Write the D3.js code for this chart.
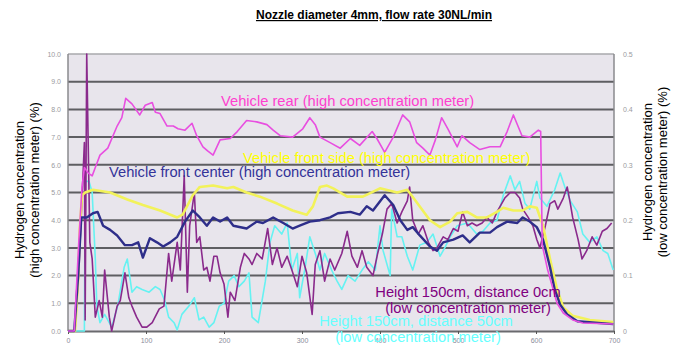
<!DOCTYPE html>
<html><head><meta charset="utf-8">
<script src="https://cdn.jsdelivr.net/npm/d3@7"></script>
<style>
body{margin:0;background:#fff;}
svg{display:block;font-family:"Liberation Sans",Arial,sans-serif;}
</style></head>
<body><svg id="c" width="682" height="349"></svg>
<script>
// ---- data ----
const xTicks = [0,100,200,300,400,500,600,700];
const leftTicks = [0,1,2,3,4,5,6,7,8,9,10];
const rightTicks = [0,0.1,0.2,0.3,0.4,0.5];

// Vehicle rear (high concentration meter), left axis (%)
const rearTime = [0,8,10,14,18,21,26,31,35,41,51,63,69,74,82,92,99,108,112,118,127,135,141,150,159,165,173,179,186,195,208,217,229,242,255,263,272,288,301,310,317,323,336,349,362,374,390,396,406,417,429,438,447,455,464,471,479,487,499,505,515,528,541,554,563,571,582,592,603,606,608,615,621,627,635,647,660,699];
const rearValue = [0,0,1.1,3.3,5.2,5.9,5.7,5.6,5.9,6.35,6.6,7.4,7.7,8.4,8.2,7.8,8.15,8.25,7.9,7.85,7.4,7.4,7.3,7.25,7.5,7.05,6.65,6.5,6.35,6.9,6.95,7.2,7.6,7.55,7.45,7.25,7.05,7.0,7.3,7.7,7.45,7.0,6.8,6.6,6.95,6.7,7.2,6.95,6.45,7.0,7.8,7.55,6.8,6.6,6.35,6.9,7.7,7.3,6.65,7.05,6.8,6.55,6.65,6.65,7.2,7.8,7.05,7.0,7.25,7.2,3.1,2.2,1.6,1.0,0.65,0.4,0.29,0.25];

// Vehicle front side (high concentration meter), left axis (%)
const sideTime = [0,9,13,15,18,22,32,54,76,96,118,140,147,160,169,186,204,212,229,246,268,288,306,314,323,332,340,358,378,400,422,435,447,464,477,490,499,512,524,537,550,558,571,583,592,601,609,618,627,635,647,669,699];
const sideValue = [0,0,1.85,3.65,4.9,5.0,5.1,5.0,4.75,4.55,4.35,4.1,4.2,4.9,5.2,5.25,5.15,5.2,5.0,4.85,4.6,4.35,4.2,4.5,5.2,5.25,5.15,4.85,4.85,5.15,5.0,5.1,4.65,4.0,3.75,3.95,4.25,4.3,4.1,4.1,4.3,4.45,4.35,4.35,4.5,4.45,3.8,2.6,1.5,0.85,0.55,0.4,0.32];

// Vehicle front center (high concentration meter), left axis (%)
const centerTime = [0,8,13,17,24,32,38,45,54,63,73,82,90,96,105,114,122,131,140,150,160,169,178,186,195,204,212,229,242,250,263,276,288,297,310,323,336,346,362,374,383,391,406,417,426,435,442,451,464,473,481,494,506,515,528,541,550,563,576,583,592,601,609,614,618,624,631,640,653,699];
const centerValue = [0,0,2.0,4.1,4.1,4.25,4.3,3.8,3.65,3.45,3.1,3.1,3.2,2.65,3.35,3.2,3.05,3.2,3.4,3.95,4.35,4.1,3.8,4.1,3.95,4.1,3.8,3.7,3.95,3.9,4.1,3.9,3.7,3.8,3.95,4.0,4.1,4.25,4.3,4.2,4.5,4.35,4.9,4.55,4.0,3.65,3.75,3.45,3.05,2.9,3.2,3.3,3.45,3.2,3.55,3.55,3.75,3.95,3.9,4.1,3.95,3.75,3.3,2.75,2.3,1.5,0.95,0.6,0.35,0.25];

// Height 150cm, distance 0cm (low concentration meter), right axis (%)
const h0Time = [0,9,14,18,21,22,24,28,31,35,40,44,47,53,56,63,67,73,78,82,88,95,101,108,117,123,129,133,140,144,149,153,156,162,165,169,174,178,182,187,191,195,200,205,208,214,221,226,232,236,242,249,256,262,268,274,281,287,294,300,306,313,317,323,329,336,342,351,358,364,371,377,383,391,397,403,409,415,422,428,435,438,442,449,455,462,468,473,481,487,494,500,506,512,518,524,531,537,544,550,554,560,567,573,579,583,590,596,601,605,612,618,624,628,635,640,644,647,654,659,665,672,678,685,691,697];
const h0Value = [0,0,0.11,0.24,0.34,0.02,0.5,0.16,0.13,0.025,0.055,0.025,0.11,0.025,0,0.045,0.055,0.105,0.06,0.045,0.025,0.007,0.007,0.015,0.04,0.045,0.14,0.09,0.16,0.11,0.28,0.07,0.19,0.25,0.16,0.17,0.11,0.115,0.09,0.135,0.135,0.105,0.085,0.025,0.07,0.055,0.115,0.14,0.13,0.12,0.14,0.13,0.185,0.12,0.15,0.115,0.135,0.11,0.08,0.135,0.105,0.03,0.12,0.145,0.09,0.13,0.11,0.14,0.18,0.135,0.115,0.145,0.115,0.1,0.14,0.175,0.22,0.23,0.195,0.215,0.235,0.26,0.2,0.175,0.19,0.16,0.145,0.15,0.17,0.165,0.185,0.18,0.215,0.19,0.195,0.19,0.195,0.205,0.195,0.215,0.225,0.24,0.25,0.25,0.24,0.22,0.205,0.19,0.165,0.15,0.19,0.23,0.235,0.22,0.24,0.26,0.23,0.205,0.165,0.13,0.145,0.17,0.155,0.18,0.185,0.195];

// Height 150cm, distance 50cm (low concentration meter), right axis (%)
const h50Time = [0,21,22,27,31,35,37,41,47,56,64,72,76,82,88,95,104,112,118,124,129,136,140,146,155,162,168,174,181,187,194,200,206,213,219,226,232,236,244,253,259,265,274,281,287,294,297,304,310,317,323,329,338,345,351,359,368,377,385,394,400,404,413,415,422,428,435,442,451,460,468,477,483,490,499,512,524,532,541,550,558,567,573,579,586,592,601,605,614,624,631,637,644,653,660,669,678,686,692,699];
const h50Value = [0,0,0.27,0.27,0.25,0.13,0.045,0.015,0.03,0.007,0.047,0.115,0.13,0.07,0.08,0.075,0.07,0.08,0.075,0.055,0.025,0.015,0.002,0.03,0.045,0.06,0.02,0.025,0.007,0.015,0.045,0.05,0.09,0.1,0.08,0.09,0.105,0.025,0.015,0.09,0.16,0.19,0.175,0.195,0.11,0.14,0.06,0.115,0.17,0.14,0.11,0.14,0.11,0.09,0.075,0.1,0.09,0.11,0.125,0.11,0.19,0.145,0.1,0.22,0.17,0.17,0.135,0.11,0.155,0.16,0.175,0.135,0.15,0.17,0.19,0.195,0.175,0.18,0.195,0.2,0.245,0.28,0.255,0.27,0.23,0.22,0.27,0.24,0.225,0.255,0.285,0.26,0.235,0.215,0.175,0.16,0.17,0.145,0.14,0.11];

// ---- chart ----
const svg = d3.select("#c");
const L = 68, R = 614, T = 54, B = 331;
const x = d3.scaleLinear().domain([0,700]).range([L,R]);
const yL = d3.scaleLinear().domain([0,10]).range([B,T]);
const yR = d3.scaleLinear().domain([0,0.5]).range([B,T]);

svg.append("rect").attr("x",L).attr("y",T).attr("width",R-L).attr("height",B-T).attr("fill","#e8e5ec");

// grid
svg.append("g").selectAll("line").data(leftTicks.filter(d=>d>0&&d<10)).join("line")
  .attr("x1",L).attr("x2",R).attr("y1",d=>yL(d)).attr("y2",d=>yL(d))
  .attr("stroke","#5e5e62").attr("stroke-width",2);
svg.append("line").attr("x1",L).attr("x2",R).attr("y1",T).attr("y2",T).attr("stroke","#a8a8ac").attr("stroke-width",1.5);
svg.append("line").attr("x1",R).attr("x2",R).attr("y1",T).attr("y2",B).attr("stroke","#8a8a8e").attr("stroke-width",1.5);
svg.append("line").attr("x1",L).attr("x2",L).attr("y1",T).attr("y2",B).attr("stroke","#8a8a8e").attr("stroke-width",1.5);

// axes
const axB = svg.append("g").attr("transform",`translate(0,${B})`)
  .call(d3.axisBottom(x).tickValues(xTicks).tickSize(3).tickSizeOuter(0).tickFormat(d3.format("d")));
axB.select(".domain").attr("stroke","#6a6a6e").attr("stroke-width",2);
axB.selectAll(".tick line").attr("stroke","#555");
axB.selectAll("text").attr("fill","#8a8a9a").attr("font-size",7).attr("dy","0.9em");

const axL = svg.append("g").attr("transform",`translate(${L},0)`)
  .call(d3.axisLeft(yL).tickValues(leftTicks).tickSize(0).tickFormat(d3.format(".1f")));
axL.select(".domain").remove();
axL.selectAll("text").attr("fill","#9a9a9e").attr("font-size",7).attr("dx","-4");

const axR = svg.append("g").attr("transform",`translate(${R},0)`)
  .call(d3.axisRight(yR).tickValues(rightTicks).tickSize(0).tickFormat(d=>d===0?"0":d3.format(".1f")(d)));
axR.select(".domain").remove();
axR.selectAll("text").attr("fill","#9a9a9e").attr("font-size",7).attr("dx","6");

// lines
function draw(tArr, vArr, yScale, color, w){
  const pts = tArr.map((t,i)=>[t,vArr[i]]);
  svg.append("path").datum(pts)
    .attr("d", d3.line().x(d=>x(d[0])).y(d=>yScale(d[1])).curve(d3.curveLinear))
    .attr("fill","none").attr("stroke",color).attr("stroke-width",w).attr("stroke-linejoin","round");
}
draw(h50Time, h50Value, yR, "#66f2f2", 1.6);
draw(h0Time, h0Value, yR, "#8a2a8c", 1.6);
draw(sideTime, sideValue, yL, "#f2f25a", 2.6);
draw(centerTime, centerValue, yL, "#2e2e8a", 2.4);
draw(rearTime, rearValue, yL, "#e84fe0", 1.6);

// labels
function label(txt, xp, yp, color, anchor){
  svg.append("text").attr("x",xp).attr("y",yp).attr("fill",color)
    .attr("font-size",14.7).attr("text-anchor",anchor||"start").text(txt);
}
label("Vehicle rear (high concentration meter)", 221, 106, "#ff3fcf");
label("Vehicle front side (high concentration meter)", 243, 163, "#ffff00");
label("Vehicle front center (high concentration meter)", 109, 177, "#333399");
label("Height 150cm, distance 0cm", 468, 297, "#800080", "middle");
label("(low concentration meter)", 468, 313, "#800080", "middle");
label("Height 150cm, distance 50cm", 416, 326, "#66ffff", "middle");
label("(low concentration meter)", 418, 342, "#66ffff", "middle");

// title
svg.append("text").attr("x",374).attr("y",19).attr("text-anchor","middle")
  .attr("font-size",12).attr("font-weight","bold").attr("text-decoration","underline")
  .attr("fill","#000").text("Nozzle diameter 4mm, flow rate 30NL/min");

// axis titles
function vtitle(lines, cx, cy){
  const g = svg.append("g").attr("transform",`translate(${cx},${cy}) rotate(-90)`);
  lines.forEach((s,i)=>{
    g.append("text").attr("x",0).attr("y",i*15).attr("text-anchor","middle")
     .attr("font-size",13).attr("fill","#000").text(s);
  });
}
vtitle(["Hydrogen concentration","(high concentration meter) (%)"], 24, 190);
vtitle(["Hydrogen concentration","(low concentration meter) (%)"], 652, 172);
</script></body></html>
